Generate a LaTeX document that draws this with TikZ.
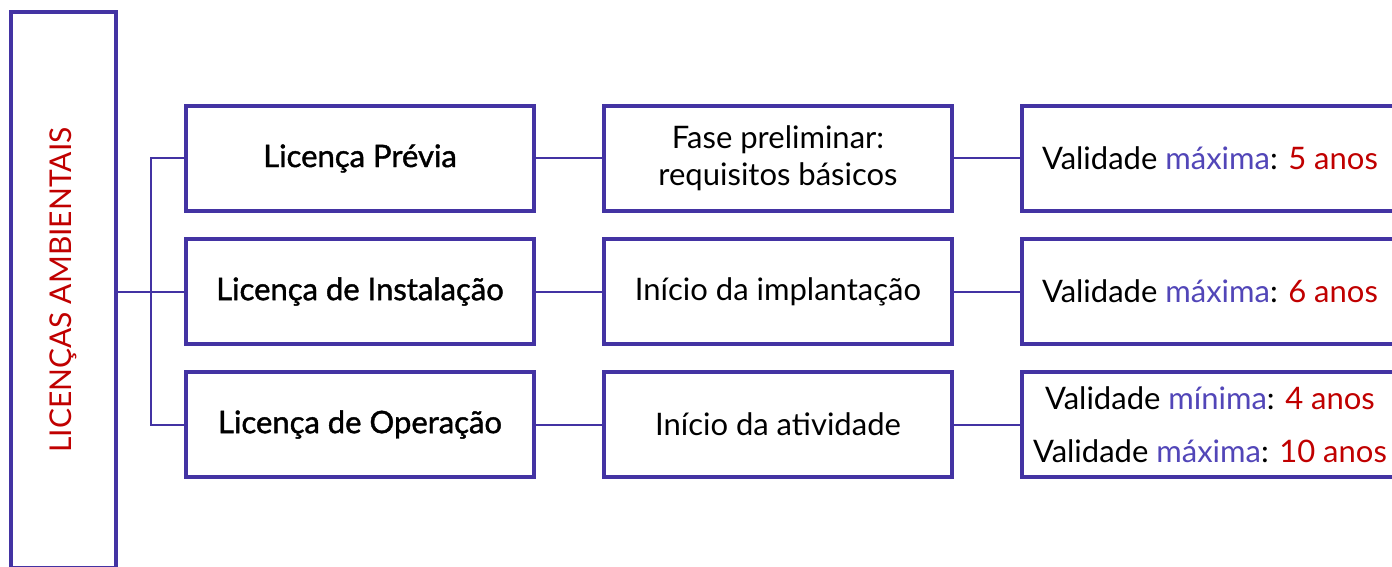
\documentclass[tikz,border=0pt]{standalone}
\usepackage{fontspec}
\setmainfont{Lato}
\newfontfamily\medio[FakeBold=1.3]{Lato}
\usetikzlibrary{positioning}
\definecolor{roxo}{RGB}{67,51,163}
\definecolor{azul}{RGB}{82,70,184}
\definecolor{vermelho}{RGB}{192,0,0}
\newcommand{\maxima}{\textcolor{azul}{máxima}}
\newcommand{\minima}{\textcolor{azul}{mínima}}
\newcommand{\anos}[1]{\textcolor{vermelho}{#1 anos}}

\begin{document}
\begin{tikzpicture}[x=1pt,y=-1pt,node distance=28pt and 70pt,semithick]
\tikzstyle{caixa}=[draw=roxo,line width=3.5pt,outer sep=0pt,inner sep=0pt,minimum width=348pt,minimum height=105pt,align=center,font=\fontsize{31}{37}\selectfont]
\tikzstyle{licenca}=[caixa,font=\fontsize{31}{37}\selectfont\medio]
\tikzstyle{validade}=[caixa,minimum width=376pt]
\tikzstyle{ligacao}=[draw=roxo,line width=2pt]
\useasboundingbox (0,0) rectangle (1392,567);
\clip (0,0) rectangle (1392,567);
\node[draw=roxo,line width=3.5pt,outer sep=0pt,minimum width=105pt,minimum height=556pt,anchor=north west] (la) at (11,12) {};
\node[rotate=90,text=vermelho,font=\fontsize{30}{36}\selectfont] (titulo) at (la.center) {LICENÇAS AMBIENTAIS};
\node[licenca,anchor=north west] (lp) at (186,106) {Licença Prévia};
\node[licenca,below=of lp] (li) {Licença de Instalação};
\node[licenca,below=of li] (lo) {Licença de Operação};
\node[caixa,right=of lp] (fp) {Fase preliminar:\\requisitos básicos};
\node[caixa,right=of li] (ii) {Início da implantação};
\node[caixa,right=of lo] (ia) {Início da atividade};
\node[validade,right=of fp] (vp) {Validade \maxima: \anos{5}};
\node[validade,right=of ii] (vi) {Validade \maxima: \anos{6}};
\node[validade,right=of ia] (vo) {Validade \minima: \anos{4}\\[16pt]Validade \maxima: \anos{10}};
\draw[ligacao] (li -| la.east) -- (li.west);
\draw[ligacao] (lp.west) -- ++(-35,0) |- (lo.west);
\path (lp) edge[ligacao] (fp)
      (fp) edge[ligacao] (vp)
      (li) edge[ligacao] (ii)
      (ii) edge[ligacao] (vi)
      (lo) edge[ligacao] (ia)
      (ia) edge[ligacao] (vo);
\end{tikzpicture}
\end{document}
